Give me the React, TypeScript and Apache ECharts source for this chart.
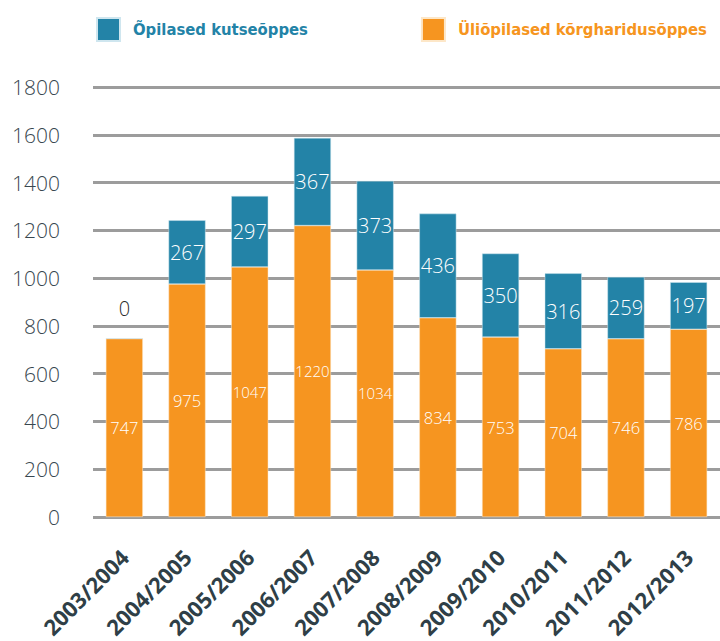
import React, { useEffect, useRef } from "react";
import * as echarts from "echarts";

const categories = ["2003/2004", "2004/2005", "2005/2006", "2006/2007", "2007/2008", "2008/2009", "2009/2010", "2010/2011", "2011/2012", "2012/2013"];
const kutseoppes = [0, 267, 297, 367, 373, 436, 350, 316, 259, 197];
const korgharidusoppes = [747, 975, 1047, 1220, 1034, 834, 753, 704, 746, 786];
const seriesNames = ["Õpilased kutseõppes", "Üliõpilased kõrgharidusõppes"];

const BLUE = "#2383A7";
const ORANGE = "#F69520";
const NUM_FONT = "'Open Sans', 'Noto Sans', sans-serif";
const BOLD_FONT = "'Liberation Sans Narrow', 'DejaVu Sans Condensed', 'Roboto', sans-serif";

export default function App() {
  const ref = useRef<HTMLDivElement>(null);
  useEffect(() => {
    if (!ref.current) return;
    const chart = echarts.init(ref.current, null, { renderer: "svg" });
    chart.setOption({
      animation: false,
      backgroundColor: "#ffffff",
      legend: {
        left: 96,
        top: 17,
        padding: 0,
        itemWidth: 23,
        itemHeight: 23,
        itemGap: 113,
        icon: "rect",
        selectedMode: false,
        data: [
          { name: seriesNames[0], textStyle: { color: BLUE } },
          { name: seriesNames[1], textStyle: { color: ORANGE } },
        ],
        textStyle: { fontFamily: BOLD_FONT, fontWeight: "bold", fontSize: 16.5, padding: [0, 0, 0, 8] },
      },
      grid: { left: 93, right: -13, top: 87, bottom: 124, containLabel: false },
      xAxis: {
        type: "category",
        data: categories,
        axisLine: { show: false },
        axisTick: { show: false },
        axisLabel: {
          rotate: 45,
          interval: 0,
          margin: 36,
          color: "#2f3f47",
          fontFamily: NUM_FONT,
          fontWeight: "bold",
          fontSize: 22,
        },
      },
      yAxis: {
        type: "value",
        min: 0,
        max: 1800,
        interval: 200,
        axisLine: { show: false },
        axisTick: { show: false },
        axisLabel: {
          margin: 33,
          color: "#38474f",
          fontFamily: NUM_FONT,
          fontWeight: 300,
          fontSize: 21,
          formatter: (v: number) => String(v),
        },
        splitLine: { lineStyle: { color: "#9c9c9c", width: 3 } },
      },
      series: [
        {
          name: seriesNames[1],
          type: "bar",
          stack: "total",
          barWidth: 37,
          z: 3,
          itemStyle: { color: ORANGE, borderColor: "#fde7c8", borderWidth: 0.5 },
          data: korgharidusoppes.map((v) => ({
            value: v,
            label: { fontSize: v >= 1000 ? 15 : 16.5 },
          })),
          label: { show: true, position: "inside", color: "#ffffff", fontFamily: NUM_FONT, fontWeight: 300 },
        },
        {
          name: seriesNames[0],
          type: "bar",
          stack: "total",
          barWidth: 37,
          z: 3,
          itemStyle: { color: BLUE, borderColor: "#cfe6ef", borderWidth: 0.5 },
          data: kutseoppes.map((v) =>
            v === 0
              ? { value: v, label: { position: "top", distance: 20, color: "#2b2b2b" } }
              : { value: v }
          ),
          label: { show: true, position: "inside", color: "#ffffff", fontFamily: NUM_FONT, fontWeight: 300, fontSize: 20 },
        },
      ],
    });
    return () => chart.dispose();
  }, []);
  return <div ref={ref} style={{ width: 720, height: 641, position: "absolute", left: 0, top: 0 }} />;
}
